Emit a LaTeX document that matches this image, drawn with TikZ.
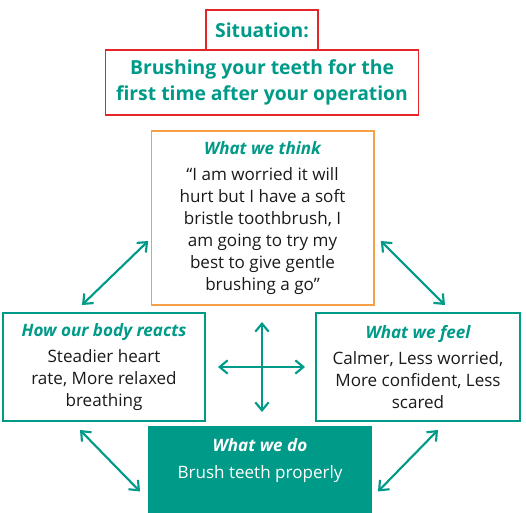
\documentclass[tikz,border=0pt]{standalone}
\usepackage{fontspec}
\setmainfont{Open Sans}
\usetikzlibrary{arrows.meta,positioning,calc}
\definecolor{cbtteal}{RGB}{0,154,136}
\definecolor{cbtred}{RGB}{228,38,42}
\definecolor{cbtorange}{RGB}{245,160,70}
\definecolor{cbttext}{RGB}{26,26,26}
\newcommand{\parthead}[1]{{\color{cbtteal}\bfseries\itshape #1}}

\begin{document}
\begin{tikzpicture}[x=0.75pt,y=-0.75pt,
    box/.style={draw, line width=1pt, align=center, inner sep=0pt, outer sep=0pt, text=cbttext,
      font=\fontsize{12.8}{16.6}\selectfont},
    sitbox/.style={box, draw=cbtred, text=cbtteal, font=\fontsize{14.5}{19.5}\selectfont\bfseries},
    arr/.style={{Straight Barb[length=6pt,width=10pt]}-{Straight Barb[length=6pt,width=10pt]}, line width=1.6pt, cbtteal}]
  \useasboundingbox (0,0) rectangle (526,513);

  % situation
  \node[sitbox, minimum width=84pt, minimum height=30pt] (sit) at (262,30) {Situation:};
  \node[sitbox, minimum width=235pt, minimum height=48.75pt, below=0pt of sit] (brush)
    {Brushing your teeth for the\\first time after your operation\rule[-4pt]{0pt}{4pt}};

  % the four parts
  \node[box, draw=cbtorange, minimum width=167pt, minimum height=130.5pt] (think) at (262.5,218)
    {\parthead{What we think}\\[3pt]“I am worried it will\\hurt but I have a soft\\bristle toothbrush, I\\am going to try my\\best to give gentle\\brushing a go”};
  \node[box, draw=cbtteal, minimum width=151.5pt, minimum height=81pt] (body) at (104,367)
    {\parthead{How our body reacts}\\[3pt]Steadier heart\\rate, More relaxed\\breathing};
  \node[box, draw=cbtteal, minimum width=153pt, minimum height=81pt] (feel) at (418,367)
    {\parthead{What we feel}\\[3pt]Calmer, Less worried,\\More confident, Less\\scared};
  \node[box, draw=cbtteal, fill=cbtteal, minimum width=166.5pt, minimum height=63.75pt] (do) at (260,469.5) {};
  \node[align=center, text=white, font=\fontsize{12.8}{16.6}\selectfont, below=5pt of do.north] (dotext)
    {{\bfseries\itshape What we do}\\[4pt]Brush teeth properly};

  % links
  \coordinate (hub) at (262,367);
  \draw[arr] ($(body.north)+(-22,-8)$) -- ($(think.west)+(-3,23)$);
  \draw[arr] ($(think.east)+(7,23)$) -- ($(feel.north)+(27,-8)$);
  \draw[arr] ($(hub)+(0,-45)$) -- ($(hub)+(0,45)$);
  \draw[arr] ($(hub)+(-44,0)$) -- ($(hub)+(43,0)$);
  \draw[arr] ($(body.south)+(-24,9)$) -- ($(do.west)+(-9,22)$);
  \draw[arr] ($(feel.south)+(20,9)$) -- ($(do.east)+(7,22)$);
\end{tikzpicture}
\end{document}
